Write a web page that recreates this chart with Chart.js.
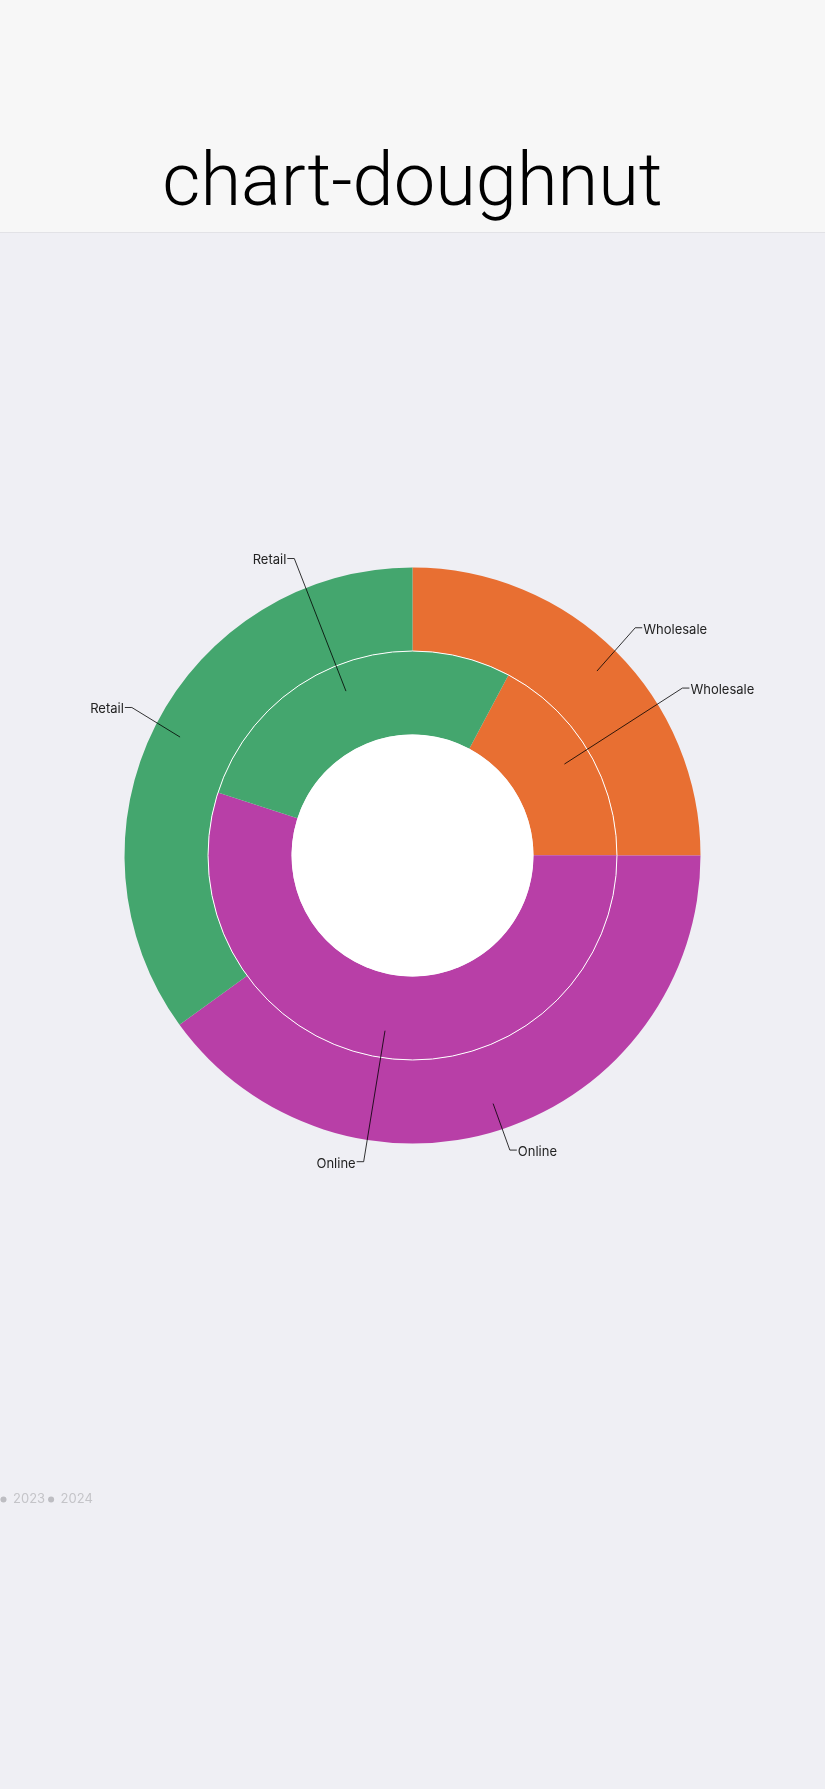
<!DOCTYPE html>
<html>
<head>
<meta charset="utf-8">
<script src="https://cdn.jsdelivr.net/npm/chart.js@4"></script>
<style>
  html, body { margin: 0; padding: 0; }
  body { width: 825px; height: 1789px; background: #efeff4; font-family: Inter, "Noto Sans", sans-serif; overflow: hidden; }
  .header { height: 232px; background: #f7f7f7; border-bottom: 1px solid #e2e2e6; position: relative; }
  .header h1 { position: absolute; left: 0; right: 0; top: 143px; margin: 0; text-align: center;
    font-family: Roboto, "Liberation Sans", sans-serif; font-weight: 300; font-size: 74px; color: #000; line-height: 1; }
  .wrap { position: absolute; left: 0; top: 221px; width: 825px; height: 1295px; }
</style>
</head>
<body>
<div class="header"><h1>chart-doughnut</h1></div>
<div class="wrap"><canvas id="chart"></canvas></div>
<script>
// Data
const categories = ['Wholesale', 'Online', 'Retail'];
const seriesNames = ['2023', '2024'];
const values2023 = [25, 40, 35];
const values2024 = [17.2, 55, 27.8];
const colors = ['#e86f32', '#b83fa7', '#44a66e'];

// white hole in the middle + thin ring between the two datasets
const ringPlugin = {
    id: 'ring',
    afterDatasetsDraw(chart) {
        const arc = chart.getDatasetMeta(1).data[0];
        if (!arc) return;
        const ctx = chart.ctx;
        ctx.save();
        ctx.fillStyle = '#ffffff';
        ctx.beginPath();
        ctx.arc(arc.x, arc.y, arc.innerRadius, 0, Math.PI * 2);
        ctx.fill();
        ctx.strokeStyle = '#ffffff';
        ctx.lineWidth = 1;
        ctx.beginPath();
        ctx.arc(arc.x, arc.y, arc.outerRadius, 0, Math.PI * 2);
        ctx.stroke();
        ctx.restore();
    }
};

// callout labels with leader lines
const calloutPlugin = {
    id: 'callout',
    afterDraw(chart) {
        const ctx = chart.ctx;
        const outer = chart.getDatasetMeta(0).data[0];
        const elbowR = outer.outerRadius + 27;
        ctx.save();
        ctx.font = '13px Inter, "Noto Sans", sans-serif';
        ctx.fillStyle = '#222';
        ctx.strokeStyle = '#000';
        ctx.lineWidth = 0.8;
        ctx.textBaseline = 'middle';
        chart.data.datasets.forEach((ds, di) => {
            chart.getDatasetMeta(di).data.forEach((arc, i) => {
                const mid = (arc.startAngle + arc.endAngle) / 2;
                const r0 = arc.innerRadius + 0.675 * (arc.outerRadius - arc.innerRadius);
                const ax = arc.x + Math.cos(mid) * r0;
                const ay = arc.y + Math.sin(mid) * r0;
                const ex = arc.x + Math.cos(mid) * elbowR;
                const ey = arc.y + Math.sin(mid) * elbowR - 5;
                const dir = Math.cos(mid) >= 0 ? 1 : -1;
                const hx = ex + dir * 7;
                ctx.beginPath();
                ctx.moveTo(ax, ay);
                ctx.lineTo(ex, ey);
                ctx.lineTo(hx, ey);
                ctx.stroke();
                ctx.textAlign = dir > 0 ? 'left' : 'right';
                ctx.fillText(chart.data.labels[i], hx + dir * 1, ey + 2);
            });
        });
        ctx.restore();
    }
};

const ctx = document.getElementById('chart').getContext('2d');

const chart = new Chart(ctx, {
    type: 'doughnut',
    data: {
        labels: categories,
        datasets: [{
            label: seriesNames[0],
            data: values2023,
            backgroundColor: colors,
            borderWidth: 0
        }, {
            label: seriesNames[1],
            data: values2024,
            backgroundColor: colors,
            borderWidth: 0,
            rotation: 28
        }]
    },
    options: {
        responsive: true,
        maintainAspectRatio: false,
        animation: false,
        radius: 288,
        cutout: '42%',
        layout: {
            padding: { top: 0, bottom: 0, left: -2.5, right: -2.5 }
        },
        plugins: {
            tooltip: { enabled: false },
            legend: {
                display: true,
                position: 'bottom',
                align: 'start',
                labels: {
                    usePointStyle: true,
                    pointStyle: 'circle',
                    boxWidth: 6,
                    boxHeight: 4.3,
                    padding: 3,
                    color: '#c4c4c8',
                    font: { size: 13, family: 'Inter, "Noto Sans", sans-serif' },
                    generateLabels(chart) {
                        return chart.data.datasets.map((ds, i) => ({
                            text: ds.label,
                            fillStyle: '#bdbdc2',
                            strokeStyle: '#bdbdc2',
                            lineWidth: 0,
                            pointStyle: 'circle',
                            fontColor: '#c4c4c8',
                            hidden: !chart.isDatasetVisible(i),
                            datasetIndex: i
                        }));
                    }
                }
            }
        }
    },
    plugins: [ringPlugin, calloutPlugin]
});
</script>
</body>
</html>
